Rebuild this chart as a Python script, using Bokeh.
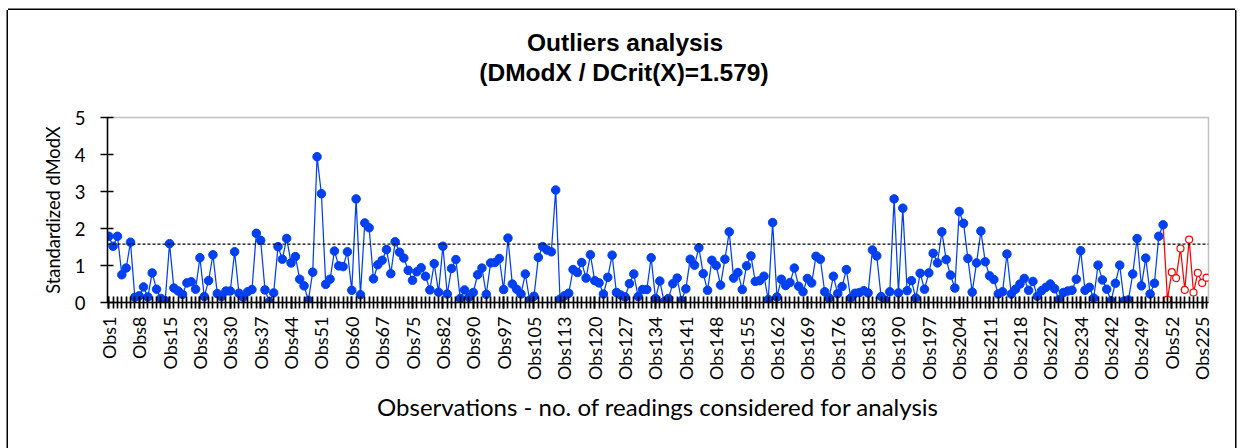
import math
from bokeh.plotting import figure
from bokeh.models import Range1d, FixedTicker, Span
from bokeh.embed import file_html
from bokeh.resources import INLINE

# --- data ---
train_values = [
    1.79, 1.52, 1.79, 0.75, 0.93, 1.63, 0.14, 0.18, 0.42, 0.15,
    0.80, 0.36, 0.11, 0.05, 1.59, 0.39, 0.31, 0.22, 0.53, 0.56,
    0.36, 1.21, 0.16, 0.59, 1.29, 0.24, 0.16, 0.31, 0.31, 1.37,
    0.25, 0.14, 0.29, 0.35, 1.87, 1.68, 0.34, 0.02, 0.26, 1.51,
    1.17, 1.73, 1.07, 1.24, 0.63, 0.45, 0.06, 0.82, 3.94, 2.94,
    0.49, 0.63, 1.39, 0.99, 0.97, 1.37, 0.33, 2.80, 0.21, 2.15,
    2.02, 0.64, 1.02, 1.14, 1.43, 0.78, 1.64, 1.36, 1.20, 0.87,
    0.60, 0.83, 0.94, 0.71, 0.34, 1.05, 0.28, 1.52, 0.23, 0.92,
    1.16, 0.11, 0.34, 0.14, 0.27, 0.75, 0.93, 0.22, 1.07, 1.08,
    1.19, 0.35, 1.74, 0.50, 0.36, 0.23, 0.77, 0.06, 0.17, 1.22,
    1.51, 1.42, 1.37, 3.04, 0.09, 0.18, 0.25, 0.89, 0.81, 1.08,
    0.66, 1.29, 0.59, 0.53, 0.23, 0.68, 1.28, 0.27, 0.20, 0.15,
    0.51, 0.77, 0.16, 0.35, 0.35, 1.21, 0.11, 0.58, 0.02, 0.11,
    0.51, 0.66, 0.05, 0.37, 1.17, 1.01, 1.48, 0.78, 0.33, 1.14,
    1.00, 0.47, 1.17, 1.91, 0.66, 0.81, 0.35, 0.99, 1.26, 0.57,
    0.59, 0.71, 0.08, 2.16, 0.15, 0.63, 0.46, 0.54, 0.93, 0.44,
    0.29, 0.65, 0.53, 1.25, 1.17, 0.29, 0.12, 0.71, 0.24, 0.43,
    0.89, 0.12, 0.25, 0.27, 0.32, 0.26, 1.42, 1.26, 0.16, 0.06,
    0.29, 2.80, 0.26, 2.55, 0.32, 0.59, 0.12, 0.79, 0.36, 0.80,
    1.33, 1.07, 1.91, 1.16, 0.74, 0.39, 2.46, 2.14, 1.19, 0.28,
    1.07, 1.93, 1.10, 0.72, 0.62, 0.23, 0.29, 1.31, 0.23, 0.36,
    0.50, 0.65, 0.33, 0.57, 0.17, 0.32, 0.41, 0.50, 0.37, 0.08,
    0.27, 0.31, 0.33, 0.63, 1.40, 0.33, 0.41, 0.12, 1.01, 0.61,
    0.36, 0.05, 0.52, 1.01, 0.04, 0.07, 0.77, 1.73, 0.45, 1.20,
    0.23, 0.52, 1.79, 2.10,
]
pred_values = [0.08, 0.82, 0.66, 1.46, 0.34, 1.70, 0.27, 0.80, 0.53, 0.67]

tick_labels = [
    "Obs1", "Obs8", "Obs15", "Obs23", "Obs30", "Obs37", "Obs44", "Obs51",
    "Obs60", "Obs67", "Obs75", "Obs82", "Obs90", "Obs97", "Obs105", "Obs113",
    "Obs120", "Obs127", "Obs134", "Obs141", "Obs148", "Obs155", "Obs162",
    "Obs169", "Obs176", "Obs183", "Obs190", "Obs197", "Obs204", "Obs211",
    "Obs218", "Obs227", "Obs234", "Obs242", "Obs249", "Obs52", "Obs225",
]
label_every = 7
dcrit = 1.579
y_ticks = [0, 1, 2, 3, 4, 5]
title_lines = ["Outliers analysis", "(DModX / DCrit(X)=1.579)"]

values = train_values + pred_values
n = len(values)
n_train = len(train_values)
xs = list(range(n))

BLUE = "#0040F0"
RED = "#FF0000"

p = figure(width=1227, height=438, output_backend="svg", toolbar_location=None,
           x_range=Range1d(-0.3, n - 1 + 0.46), y_range=Range1d(0, 5),
           min_border_left=99, min_border_right=27, min_border_top=107,
           min_border_bottom=146, background_fill_color="white",
           border_fill_color="white")

p.styles = {
    "margin-left": "8px",
    "margin-top": "10px",
    "box-shadow": "-1.5px 0 0 0 #000, 0 -1.5px 0 0 #000, 1.5px 0 0 0 #000",
}

p.xgrid.visible = False
p.ygrid.visible = False
p.outline_line_color = "#C0C0C0"
p.outline_line_width = 1.5

# chart title: two lines centred on the chart (non-breaking spaces centre the
# lines inside Bokeh's left-aligned multi-line block and shift it to chart centre)
nb = "\u00a0"
p.title.text = (nb * 7 + title_lines[0] + "\n" + title_lines[1] + nb * 10 + "\n")
p.title.align = "center"
p.title.text_font = "Liberation Sans"
p.title.text_font_size = "24.5px"
p.title.text_font_style = "bold"
p.title.text_color = "black"
p.title.text_line_height = 1.1
p.title.standoff = 4

# x axis
major = [i * label_every for i in range(len(tick_labels))]
p.xaxis.ticker = FixedTicker(ticks=major, minor_ticks=xs)
p.xaxis.major_label_overrides = {m: lab for m, lab in zip(major, tick_labels)}
p.xaxis.major_label_orientation = math.pi / 2
p.xaxis.major_label_text_font = "Lato"
p.xaxis.major_label_text_font_size = "18px"
p.xaxis.major_label_text_color = "black"
p.xaxis.major_label_standoff = 8
p.xaxis.axis_line_color = "black"
p.xaxis.axis_line_width = 1.5
for attr in ["major_tick", "minor_tick"]:
    setattr(p.xaxis, attr + "_line_color", "black")
    setattr(p.xaxis, attr + "_line_width", 1.7)
    setattr(p.xaxis, attr + "_in", 6)
    setattr(p.xaxis, attr + "_out", 6)
p.xaxis.axis_label = "Observations - no. of readings considered for analysis"
p.xaxis.axis_label_text_font = "Lato"
p.xaxis.axis_label_text_font_size = "24px"
p.xaxis.axis_label_text_font_style = "normal"
p.xaxis.axis_label_text_color = "black"
p.xaxis.axis_label_standoff = 9

# y axis
p.yaxis.ticker = FixedTicker(ticks=y_ticks, minor_ticks=[])
p.yaxis.major_label_text_font = "Lato"
p.yaxis.major_label_text_font_size = "18.5px"
p.yaxis.major_label_text_color = "black"
p.yaxis.major_label_standoff = 15
p.yaxis.axis_line_color = "black"
p.yaxis.axis_line_width = 1.5
p.yaxis.major_tick_line_color = "black"
p.yaxis.major_tick_line_width = 1.7
p.yaxis.major_tick_in = 6
p.yaxis.major_tick_out = 7
p.yaxis.axis_label = "Standardized dModX"
p.yaxis.axis_label_text_font = "Lato"
p.yaxis.axis_label_text_font_size = "18.3px"
p.yaxis.axis_label_text_font_style = "normal"
p.yaxis.axis_label_text_color = "black"
p.yaxis.axis_label_standoff = 8

# threshold
p.add_layout(Span(location=dcrit, dimension="width", line_color="black",
                  line_dash="3 2", line_width=1.2))

# series
p.line(xs[:n_train], train_values, line_color=BLUE, line_width=1.25)
p.line(xs[n_train - 1:], values[n_train - 1:], line_color=RED, line_width=1.25)
p.scatter(xs[:n_train], train_values, size=8.5, fill_color=BLUE, line_color=BLUE)
p.scatter(xs[n_train:], pred_values, size=7, fill_color="white", line_color=RED,
          line_width=1.2)

open("out.html", "w").write(file_html(p, INLINE))
